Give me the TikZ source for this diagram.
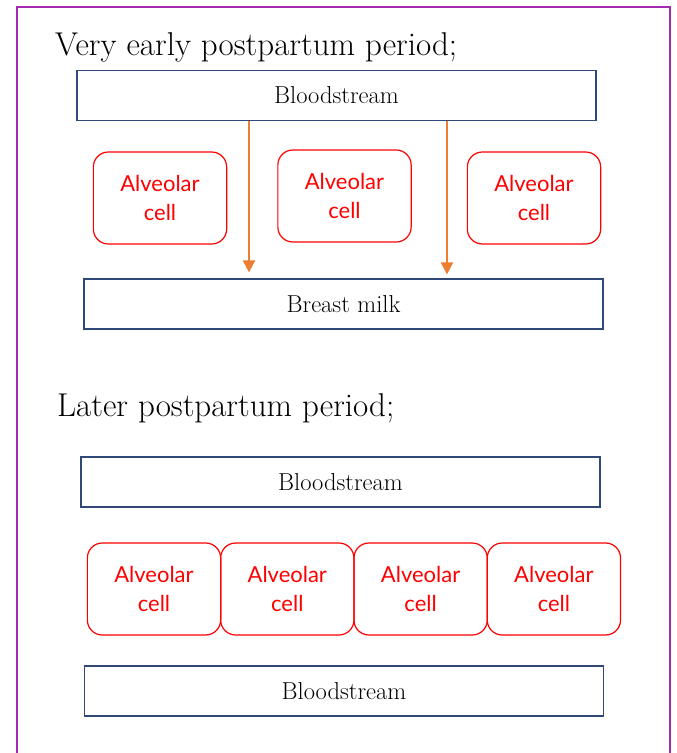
\documentclass[tikz,border=0pt]{standalone}
\usepackage{fontspec}
\newfontfamily\cellfont{Lato}
\usetikzlibrary{positioning,arrows.meta}
\definecolor{framepurple}{RGB}{163,43,176}
\definecolor{boxnavy}{RGB}{47,72,120}
\definecolor{flowor}{RGB}{237,125,49}
\tikzset{bbox/.style={draw=boxnavy,line width=1.2pt,minimum width=519pt,minimum height=50pt,inner sep=0pt,font=\fontsize{24.5}{28}\selectfont},
	 cellbox/.style={draw=red,line width=1.2pt,rounded corners=15pt,text=red,minimum width=133.3pt,minimum height=92pt,inner sep=0pt,outer sep=0pt,align=center,font=\cellfont\fontsize{22}{29}\selectfont},
	 flow/.style={draw=flowor,line width=1.8pt,-{Triangle[length=12pt,width=12pt]}},
	 ptitle/.style={anchor=base west,inner sep=0pt,font=\fontsize{33}{38}\selectfont},
	 node distance = 0pt
	 }
\begin{document}
\begin{tikzpicture}[x=1pt,y=-1pt] % milk transfer, early vs later
	\useasboundingbox (0,0) rectangle (677,753);
	\draw[framepurple,line width=1.3pt] (17,770) -- (17,7) -- (670,7) -- (670,770);
	% very early
	\node[ptitle] (t1) at (55,55) {Very early postpartum period;};
	\node[bbox] (bs1) at (336.5,95.5) {Bloodstream};
	\node[cellbox] (c1) at (160,198) {Alveolar\\cell};
	\node[cellbox] (c2) at (344.5,196) {Alveolar\\cell};
	\node[cellbox] (c3) at (534,198) {Alveolar\\cell};
	\node[bbox] (milk) at (343.5,304) {Breast milk};
	\coordinate (g1) at (249,0);
	\coordinate (g2) at (447,0);
	\draw[flow,shorten >=6pt] (bs1.south -| g1) to (milk.north -| g1);
	\draw[flow,shorten >=4pt] (bs1.south -| g2) to (milk.north -| g2);
	% later
	\node[ptitle] (t2) at (57,416) {Later postpartum period;};
	\node[bbox] (bs2) at (340.5,482) {Bloodstream};
	\node[cellbox] (c4) at (154,589) {Alveolar\\cell};
	\node[cellbox] (c5) [right=of c4] {Alveolar\\cell};
	\node[cellbox] (c6) [right=of c5] {Alveolar\\cell};
	\node[cellbox] (c7) [right=of c6] {Alveolar\\cell};
	\node[bbox] (bs3) at (344,691) {Bloodstream};
\end{tikzpicture}
\end{document}
